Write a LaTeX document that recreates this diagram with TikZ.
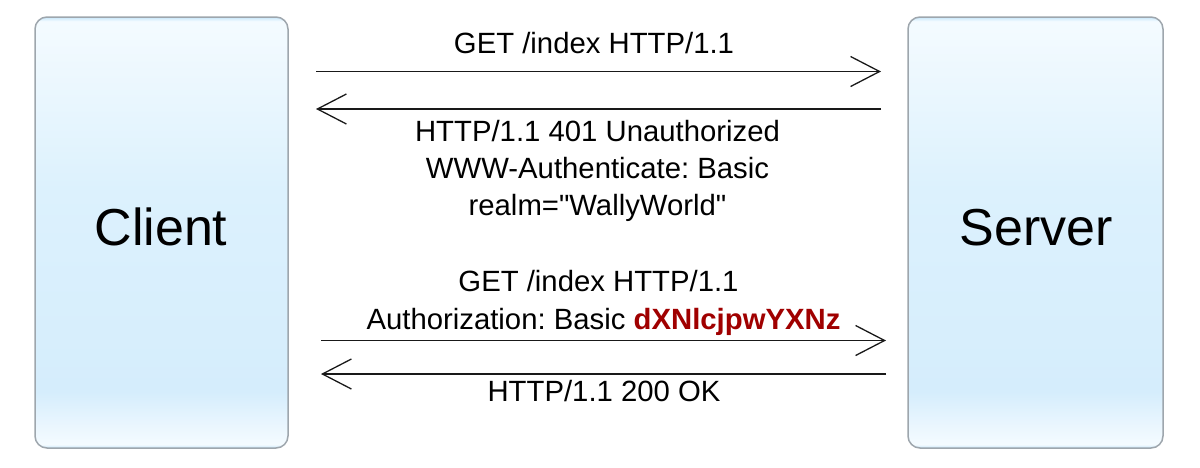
\documentclass[tikz,border=0pt]{standalone}
\usepackage{fontspec}
\setmainfont{Liberation Sans}[Ligatures=TeXOff]
\usetikzlibrary{arrows.meta}
\definecolor{rimblue}{HTML}{C6E6FA}
\definecolor{bandwhite}{HTML}{F4FBFF}
\definecolor{lightblue}{HTML}{E8F5FE}
\definecolor{midblue}{HTML}{D5EDFC}
\definecolor{upblue}{HTML}{DCF1FD}
\definecolor{topblue}{HTML}{EBF7FE}
\definecolor{boxborder}{HTML}{9EA6AD}
\definecolor{tokenred}{HTML}{A00000}
\pgfdeclareverticalshading{boxshade}{100bp}{%
  color(0bp)=(rimblue); color(25bp)=(rimblue); color(25.4bp)=(bandwhite);
  color(28bp)=(lightblue); color(31.5bp)=(midblue); color(55bp)=(upblue);
  color(67bp)=(topblue); color(74.5bp)=(bandwhite); color(75bp)=(rimblue);
  color(100bp)=(rimblue)}
\tikzset{
  hostbox/.style={draw=boxborder, line width=1.5pt, rounded corners=12pt,
    shading=boxshade, minimum height=431pt, inner sep=0pt},
  hostlabel/.style={font=\fontsize{52pt}{60pt}\selectfont, anchor=base, inner sep=0pt},
  msg/.style={font=\fontsize{29.3pt}{36pt}\selectfont\frenchspacing, anchor=base, inner sep=0pt},
  msgarrow/.style={line width=1.3pt, draw={rgb,255:red,25;green,25;blue,25},
    -{Straight Barb[length=29pt,width=30pt,line width=1.3pt]}}
}
\begin{document}
\begin{tikzpicture}[x=1pt,y=-1pt]
\useasboundingbox (0,0) rectangle (1200,467);
\fill[white] (0,0) rectangle (1200,467);
\node[hostbox, minimum width=253pt] (client) at (161.5,232.5) {};
\node[hostbox, minimum width=255pt] (server) at (1035.5,232.5) {};
\node[hostlabel] (clientlabel) at (161,245.7) {Client};
\node[hostlabel] (serverlabel) at (1036,245.7) {Server};
% arrow end points
\coordinate (a1s) at (316,71.5);  \coordinate (a1e) at (881,71.5);
\coordinate (a2s) at (881,109);   \coordinate (a2e) at (316,109);
\coordinate (a3s) at (321,340.5); \coordinate (a3e) at (886,340.5);
\coordinate (a4s) at (886,374);   \coordinate (a4e) at (321,374);
\draw[msgarrow] (a1s) -- (a1e);
\draw[msgarrow] (a2s) -- (a2e);
\draw[msgarrow] (a3s) -- (a3e);
\draw[msgarrow] (a4s) -- (a4e);
% labels
\node[msg] (m1) at (594,53.3) {GET /index HTTP/1.1};
\node[msg] (m2a) at (597.5,141.7) {HTTP/1.1 401 Unauthorized};
\node[msg] (m2b) at (597.5,178.3) {WWW-Authenticate: Basic};
\node[msg] (m2c) at (597.5,215) {realm="WallyWorld"};
\node[msg] (m3a) at (598.5,291.7) {GET /index HTTP/1.1};
\node[msg] (m3b) at (603.5,329) {Authorization: Basic \textcolor{tokenred}{\bfseries dXNlcjpwYXNz}};
\node[msg] (m4) at (604,401) {HTTP/1.1 200 OK};
\end{tikzpicture}
\end{document}
